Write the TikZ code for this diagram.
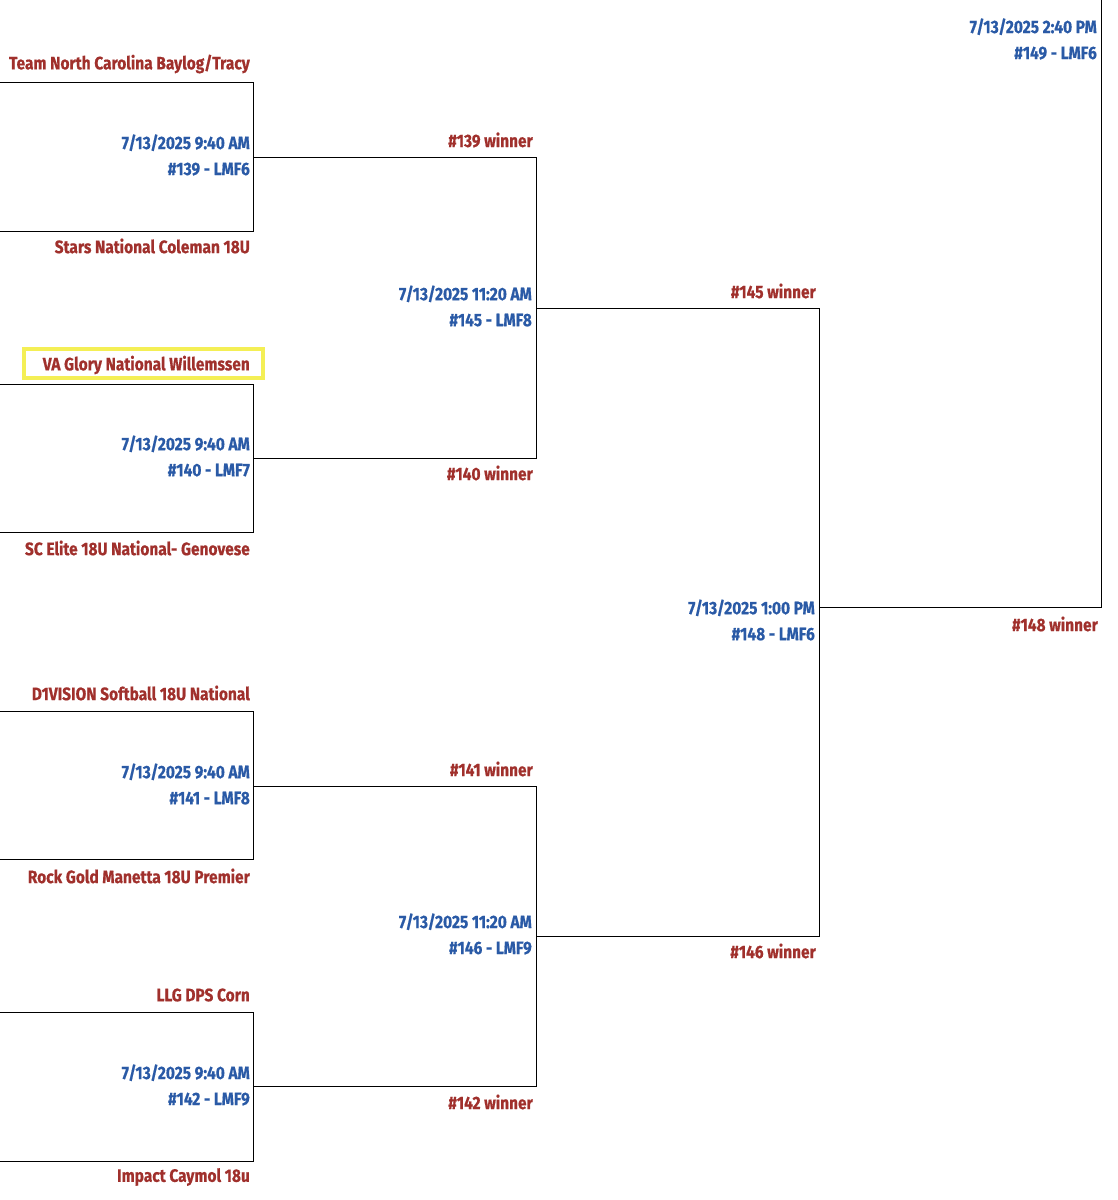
\documentclass[tikz,border=0pt]{standalone}
\usepackage{fontspec}
\setmainfont[FakeStretch=0.86,FakeBold=0.6]{Fira Sans}
\definecolor{tred}{HTML}{A0302C}
\definecolor{tblue}{HTML}{2A5AA6}
\definecolor{hl}{HTML}{F4EF55}
\begin{document}
\begin{tikzpicture}[x=1pt,y=-1pt,
  lbl/.style={anchor=east,inner sep=0pt,font=\fontsize{18}{20}\selectfont\bfseries},
  team/.style={lbl,text=tred},
  game/.style={lbl,text=tblue,align=right,font=\fontsize{18}{26}\selectfont\bfseries},
  ln/.style={draw=black,line width=0.9pt}]
\useasboundingbox (0,0) rectangle (1117,1200);
\foreach \n/\x/\y in {a1/0/82,a2/253/82,a3/253/231,a4/0/231,
  b1/0/384,b2/253/384,b3/253/532,b4/0/532,
  c1/0/711,c2/253/711,c3/253/859,c4/0/859,
  d1/0/1012,d2/253/1012,d3/253/1161,d4/0/1161,
  am/253/157,aw/536/157,bm/253/458,bw/536/458,
  cm/253/786,cw/536/786,dm/253/1086,dw/536/1086,
  em/536/308,ew/819/308,fm/536/936,fw/819/936,
  gm/819/607,gw/1101/607,top/1101/0}
  \coordinate (\n) at (\x,\y);
\foreach \p in {a,b,c,d} \draw[ln] (\p1)--(\p2)--(\p3)--(\p4);
\draw[ln] (am)--(aw)--(bw)--(bm);
\draw[ln] (cm)--(cw)--(dw)--(dm);
\draw[ln] (em)--(ew)--(fw)--(fm);
\draw[ln] (gm)--(gw)--(top);
\draw[hl,line width=3.5pt] (24,349) rectangle (263,378);
\node[team] (t1) at (250,64) {Team North Carolina Baylog/Tracy};
\node[team] (t2) at (250,246) {Stars National Coleman 18U};
\node[team] (t3) at (250,365) {VA Glory National Willemssen};
\node[team] (t4) at (250,548) {SC Elite 18U National- Genovese};
\node[team] (t5) at (250,693) {D1VISION Softball 18U National};
\node[team] (t6) at (250,876) {Rock Gold Manetta 18U Premier};
\node[team] (t7) at (250,995) {LLG DPS Corn};
\node[team] (t8) at (250,1177) {Impact Caymol 18u};
\node[game] (g139) at (250,155) {7/13/2025 9:40 AM\\\#139 - LMF6};
\node[game] (g140) at (250,456) {7/13/2025 9:40 AM\\\#140 - LMF7};
\node[game] (g141) at (250,784) {7/13/2025 9:40 AM\\\#141 - LMF8};
\node[game] (g142) at (250,1085) {7/13/2025 9:40 AM\\\#142 - LMF9};
\node[game] (g145) at (532,306) {7/13/2025 11:20 AM\\\#145 - LMF8};
\node[game] (g146) at (532,934) {7/13/2025 11:20 AM\\\#146 - LMF9};
\node[game] (g148) at (815,620) {7/13/2025 1:00 PM\\\#148 - LMF6};
\node[game] (g149) at (1097,39) {7/13/2025 2:40 PM\\\#149 - LMF6};
\node[team] (w139) at (533,140) {\#139 winner};
\node[team] (w140) at (533,473) {\#140 winner};
\node[team] (w141) at (533,769) {\#141 winner};
\node[team] (w142) at (533,1102) {\#142 winner};
\node[team] (w145) at (816,291) {\#145 winner};
\node[team] (w146) at (816,951) {\#146 winner};
\node[team] (w148) at (1098,624) {\#148 winner};
\end{tikzpicture}
\end{document}
